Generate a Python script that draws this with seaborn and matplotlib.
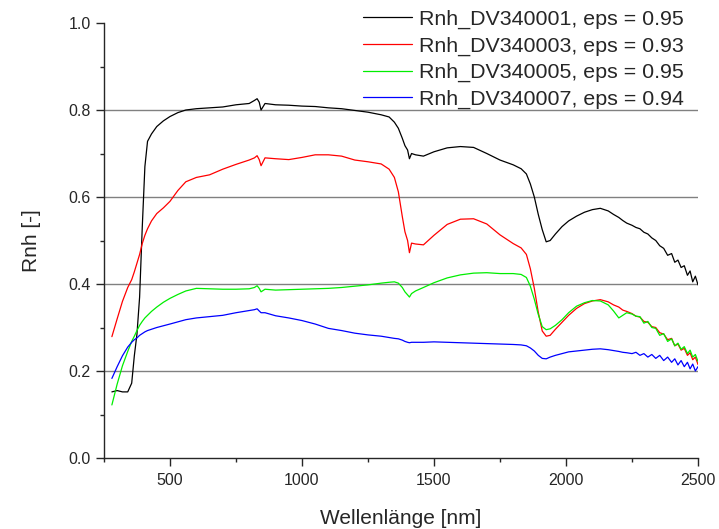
#!/usr/bin/env python3

import pandas as pd
import numpy as np
import matplotlib
matplotlib.use('Agg')
import matplotlib.pyplot as plt
import seaborn as sns
from matplotlib.ticker import MultipleLocator

# wavelength grid [nm]
wavelength = [280, 300, 320, 340, 355, 365, 375, 385, 395, 405,
              415, 430, 450, 475, 500, 530, 560, 600, 650, 700,
              750, 800, 820, 830, 838, 845, 860, 900, 950, 1000,
              1050, 1100, 1150, 1200, 1250, 1300, 1330, 1350, 1365, 1380,
              1390, 1400, 1407, 1415, 1430, 1460, 1500, 1550, 1600, 1650,
              1700, 1750, 1800, 1830, 1850, 1865, 1880, 1895, 1910, 1925,
              1940, 1960, 1985, 2010, 2040, 2070, 2100, 2130, 2160, 2180,
              2200, 2215, 2230, 2250, 2265, 2280, 2295, 2310, 2325, 2340,
              2355, 2370, 2385, 2400, 2412, 2424, 2436, 2448, 2460, 2470,
              2480, 2490, 2500]

# reflectance
rnh_01 = [0.152, 0.155, 0.152, 0.152, 0.172, 0.235, 0.285, 0.370, 0.530, 0.670,
          0.728, 0.745, 0.762, 0.775, 0.785, 0.794, 0.800, 0.803, 0.805, 0.807,
          0.812, 0.815, 0.822, 0.826, 0.818, 0.800, 0.815, 0.812, 0.811, 0.809,
          0.808, 0.805, 0.803, 0.799, 0.795, 0.789, 0.784, 0.772, 0.758, 0.735,
          0.718, 0.708, 0.688, 0.700, 0.697, 0.694, 0.704, 0.713, 0.716, 0.714,
          0.700, 0.685, 0.674, 0.665, 0.653, 0.630, 0.600, 0.560, 0.525, 0.497,
          0.500, 0.515, 0.532, 0.545, 0.556, 0.565, 0.571, 0.574, 0.568, 0.560,
          0.553, 0.546, 0.540, 0.535, 0.530, 0.527, 0.519, 0.515, 0.506, 0.500,
          0.488, 0.482, 0.466, 0.470, 0.450, 0.455, 0.438, 0.442, 0.420, 0.430,
          0.405, 0.418, 0.398]

rnh_03 = [0.279, 0.320, 0.360, 0.392, 0.410, 0.428, 0.448, 0.468, 0.493, 0.512,
          0.527, 0.545, 0.562, 0.575, 0.590, 0.615, 0.635, 0.645, 0.651, 0.664,
          0.675, 0.685, 0.690, 0.695, 0.686, 0.672, 0.690, 0.688, 0.686, 0.691,
          0.697, 0.697, 0.694, 0.685, 0.681, 0.676, 0.664, 0.645, 0.612, 0.555,
          0.520, 0.500, 0.472, 0.494, 0.492, 0.490, 0.512, 0.537, 0.549, 0.550,
          0.538, 0.513, 0.493, 0.483, 0.468, 0.435, 0.390, 0.335, 0.292, 0.280,
          0.282, 0.296, 0.312, 0.328, 0.344, 0.355, 0.361, 0.364, 0.359, 0.352,
          0.347, 0.340, 0.337, 0.332, 0.326, 0.324, 0.314, 0.312, 0.302, 0.300,
          0.288, 0.285, 0.272, 0.275, 0.258, 0.262, 0.248, 0.252, 0.236, 0.242,
          0.226, 0.232, 0.215]

rnh_05 = [0.122, 0.170, 0.212, 0.245, 0.268, 0.280, 0.293, 0.305, 0.314, 0.322,
          0.328, 0.337, 0.347, 0.358, 0.367, 0.376, 0.384, 0.390, 0.389, 0.388,
          0.388, 0.389, 0.392, 0.396, 0.390, 0.382, 0.388, 0.386, 0.387, 0.388,
          0.389, 0.390, 0.392, 0.395, 0.398, 0.402, 0.404, 0.405, 0.402, 0.392,
          0.382, 0.375, 0.370, 0.378, 0.384, 0.392, 0.403, 0.414, 0.421, 0.425,
          0.426, 0.424, 0.424, 0.422, 0.415, 0.395, 0.365, 0.330, 0.302, 0.295,
          0.297, 0.305, 0.318, 0.334, 0.349, 0.357, 0.362, 0.361, 0.352, 0.338,
          0.322, 0.328, 0.334, 0.331, 0.326, 0.325, 0.310, 0.314, 0.300, 0.298,
          0.282, 0.286, 0.268, 0.274, 0.258, 0.264, 0.250, 0.256, 0.240, 0.248,
          0.232, 0.238, 0.222]

rnh_07 = [0.183, 0.210, 0.235, 0.255, 0.266, 0.272, 0.276, 0.282, 0.286, 0.290,
          0.293, 0.296, 0.300, 0.304, 0.308, 0.313, 0.318, 0.322, 0.325, 0.328,
          0.334, 0.339, 0.341, 0.343, 0.338, 0.334, 0.334, 0.327, 0.322, 0.316,
          0.308, 0.298, 0.293, 0.287, 0.283, 0.280, 0.277, 0.275, 0.274, 0.271,
          0.268, 0.266, 0.265, 0.266, 0.266, 0.266, 0.267, 0.266, 0.265, 0.264,
          0.263, 0.262, 0.261, 0.260, 0.258, 0.253, 0.246, 0.236, 0.229, 0.228,
          0.232, 0.236, 0.240, 0.244, 0.246, 0.248, 0.250, 0.251, 0.249, 0.247,
          0.245, 0.243, 0.242, 0.240, 0.243, 0.236, 0.240, 0.232, 0.238, 0.229,
          0.236, 0.224, 0.232, 0.220, 0.228, 0.214, 0.224, 0.210, 0.220, 0.205,
          0.216, 0.200, 0.210]

labels = ['Rnh_DV340001, eps = 0.95', 'Rnh_DV340003, eps = 0.93',
          'Rnh_DV340005, eps = 0.95', 'Rnh_DV340007, eps = 0.94']
colors = ['#000000', '#ff0000', '#00ee00', '#0000ff']
grid_levels = [0.2, 0.4, 0.6, 0.8]

# long format for seaborn
frames = []
for lab, vals in zip(labels, [rnh_01, rnh_03, rnh_05, rnh_07]):
    frames.append(pd.DataFrame({'wl': wavelength, 'rnh': vals, 'sample': lab}))
df = pd.concat(frames, ignore_index=True)

sns.set_style('ticks')
plt.rcParams['font.family'] = ['Liberation Sans', 'DejaVu Sans']

fig, ax = plt.subplots(figsize=(7.19, 5.29), dpi=100)
fig.subplots_adjust(left=0.1446, right=0.9708, bottom=0.1342, top=0.9565)

for lev in grid_levels:
    ax.axhline(lev, color='#808080', lw=1.0, zorder=0)

sns.lineplot(data=df, x='wl', y='rnh', hue='sample', hue_order=labels,
             palette=colors, estimator=None, lw=0.9, ax=ax)

ax.set_xlim(250, 2500)
ax.set_ylim(0, 1.0)
ax.xaxis.set_major_locator(MultipleLocator(500))
ax.xaxis.set_minor_locator(MultipleLocator(250))
ax.yaxis.set_major_locator(MultipleLocator(0.2))
ax.yaxis.set_minor_locator(MultipleLocator(0.1))
ax.set_xticks([500, 1000, 1500, 2000, 2500])
ax.yaxis.set_major_formatter(plt.FormatStrFormatter('%.1f'))

sns.despine(ax=ax)
for sp in ['left', 'bottom']:
    ax.spines[sp].set_linewidth(1.0)
ax.tick_params(which='major', length=6, width=1.0, labelsize=11.5, direction='out')
ax.tick_params(axis='x', which='major', pad=5)
ax.tick_params(which='minor', length=3, width=1.0, direction='out')

ax.set_xlabel('Wellenlänge [nm]', fontsize=15, labelpad=15)
ax.set_ylabel('Rnh [-]', fontsize=15, labelpad=20)

ax.legend(loc='upper right', bbox_to_anchor=(0.976, 1.031), frameon=False,
          fontsize=15.4, handlelength=2.3, handletextpad=0.3, labelspacing=0.35,
          borderpad=0, borderaxespad=0)

plt.savefig('out.png', dpi=100)
